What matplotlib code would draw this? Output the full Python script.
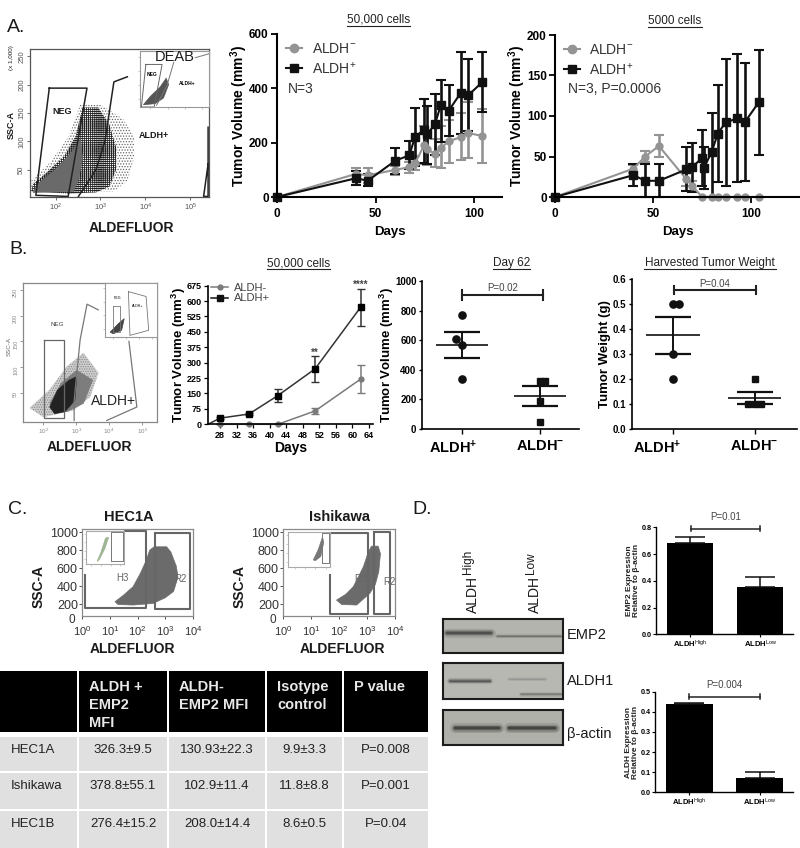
import matplotlib
matplotlib.use("Agg")
import matplotlib.pyplot as plt
from matplotlib.patches import Polygon, Rectangle
from matplotlib.lines import Line2D
from matplotlib.transforms import ScaledTranslation

plt.rcParams['font.family'] = ['Liberation Sans', 'DejaVu Sans']
plt.rcParams['mathtext.fontset'] = 'custom'
plt.rcParams['mathtext.rm'] = 'Liberation Sans'
plt.rcParams['mathtext.bf'] = 'Liberation Sans:bold'
plt.rcParams['mathtext.it'] = 'Liberation Sans'
plt.rcParams['hatch.linewidth'] = 0.6

W, H = 800, 848
GRAY = '#949494'
BLACK = '#111111'

# --- panel A, 50,000 cells ---
a1_neg_days = [0, 40, 46, 60, 67, 70, 74.5, 76, 80, 83, 87, 93, 97, 104]
a1_neg = [0, 85, 80, 100, 110, 125, 190, 175, 160, 180, 205, 220, 235, 225]
a1_neg_low = [0, 65, 50, 80, 90, 100, 120, 118, 110, 105, 125, 135, 145, 125]
a1_neg_high = [0, 105, 105, 115, 130, 150, 260, 235, 215, 260, 285, 310, 350, 325]
a1_pos_days = [0, 40, 46, 60, 67, 70, 74.5, 76, 80, 83, 87, 93, 97, 104]
a1_pos = [0, 69, 60, 134, 153, 222, 247, 231, 267, 339, 318, 382, 375, 423]
a1_pos_low = [0, 45, 42, 85, 102, 115, 124, 121, 155, 204, 223, 231, 243, 314]
a1_pos_high = [0, 97, 83, 182, 207, 328, 361, 335, 379, 429, 412, 533, 508, 533]

# --- panel A, 5000 cells ---
a2_neg_days = [0, 40, 46, 53, 67, 70, 75, 80, 83, 87, 93, 97, 104]
a2_neg = [0, 35, 50, 63, 22, 14, 0, 0, 0, 0, 0, 0, 0]
a2_neg_low = [0, 30, 43, 50, 14, 8, 0, 0, 0, 0, 0, 0, 0]
a2_neg_high = [0, 40, 57, 77, 30, 20, 0, 0, 0, 0, 0, 0, 0]
a2_pos_days = [0, 40, 46, 53, 67, 70, 75, 76, 80, 83, 87, 93, 97, 104]
a2_pos = [0, 27, 20, 20, 34, 37, 48, 36, 56, 78, 92, 97, 93, 117]
a2_pos_low = [0, 13, 0, 0, 8, 6, 14, 10, 0, 18, 13, 19, 20, 52]
a2_pos_high = [0, 41, 41, 41, 62, 67, 83, 62, 104, 138, 170, 176, 165, 182]

# --- panel B ---
b_days = [28, 35, 42, 51, 62]
b_neg = [0, 0, 0, 65, 220]
b_neg_err = [0, 0, 0, 15, 68]
b_pos = [30, 50, 140, 270, 570]
b_pos_err = [5, 5, 32, 65, 90]
b_ticks_x = [28, 32, 36, 40, 44, 48, 52, 56, 60, 64]
b_ticks_y = [0, 75, 150, 225, 300, 375, 450, 525, 600, 675]

dot_labels = ['ALDH$\\mathbf{^{+}}$', 'ALDH$\\mathbf{^{-}}$']
vol_pos_x = [0, -0.08, 0, 0]
vol_pos_y = [770, 605, 570, 340]
vol_neg_x = [0, 0.07, 0, 0]
vol_neg_y = [325, 325, 190, 45]
vol_means = [570, 222]
vol_sems = [88, 68]
wt_pos_x = [0, 0.08, 0, 0]
wt_pos_y = [0.5, 0.5, 0.3, 0.2]
wt_neg_x = [0, -0.08, 0, 0.08]
wt_neg_y = [0.2, 0.1, 0.1, 0.1]
wt_means = [0.375, 0.125]
wt_sems = [0.075, 0.025]

# --- panel D ---
bar_labels = ['ALDH$^{High}$', 'ALDH$^{Low}$']
emp2_vals = [0.68, 0.35]
emp2_errs = [0.045, 0.08]
aldh_vals = [0.44, 0.07]
aldh_errs = [0.006, 0.03]

# --- table ---
table_header = ['', 'ALDH +\nEMP2\nMFI', 'ALDH-\nEMP2 MFI', 'Isotype\ncontrol', 'P value']
table_rows = [
    ['HEC1A', '326.3±9.5', '130.93±22.3', '9.9±3.3', 'P=0.008'],
    ['Ishikawa', '378.8±55.1', '102.9±11.4', '11.8±8.8', 'P=0.001'],
    ['HEC1B', '276.4±15.2', '208.0±14.4', '8.6±0.5', 'P=0.04'],
]
table_x = [(0, 77), (79, 167), (169, 265), (267, 342), (344, 428)]
table_y = [(671, 732), (737, 771), (773, 809), (811, 848)]

# --- flow cytometry outlines (log10 fluorescence, SSC) ---
fa_sparse = [(1.45, 12), (1.45, 30), (1.9, 65), (2.3, 110), (2.55, 165), (3.0, 165),
             (3.5, 140), (3.75, 110), (3.75, 70), (3.6, 30), (3.3, 12)]
fa_dark = [(1.45, 12), (1.5, 25), (1.8, 45), (2.2, 75), (2.45, 110), (2.6, 160), (2.95, 160),
           (3.2, 130), (3.35, 90), (3.35, 50), (3.2, 20), (2.9, 10), (2.3, 8)]
fa_core = [(1.5, 10), (1.6, 25), (2.0, 50), (2.4, 85), (2.55, 105), (2.6, 70), (2.5, 30), (2.4, 12)]
fa_neg = [(1.86, 194), (2.7, 194), (2.28, 3), (1.56, 5)]
fa_pos = [(2.51, 3), (2.9, 50), (3.1, 100), (3.3, 205), (3.6, 214)]
fa_edge = [(5.4, 125), (5.4, 3), (5.3, 3), (5.4, 60)]
fb_light = [(1.6, 21), (2.2, 56), (2.72, 101), (3.22, 127), (3.67, 89), (3.42, 43), (2.92, 17), (2.01, 4)]
fb_mid = [(2.2, 30), (2.55, 69), (3.02, 94), (3.5, 75), (3.22, 30), (2.72, 14)]
fb_core = [(2.2, 23), (2.44, 56), (2.79, 75), (3.02, 82), (2.96, 36), (2.66, 14), (2.35, 10)]
fb_neg = [(2.03, 152), (2.64, 152), (2.64, 1), (2.03, 1)]
fb_pos = [(2.94, -3), (2.94, 36), (3.12, 153), (3.33, 222), (3.67, 211)]
fb_pos2 = [(4.6, 150), (4.84, 23), (3.93, -3)]
hec_cloud = [(1.19, 226), (1.5, 300), (1.84, 393), (2.1, 540), (2.32, 689), (2.44, 800), (2.6, 837),
             (3.05, 837), (3.2, 780), (3.4, 620), (3.46, 500), (3.3, 340), (3.0, 270), (2.56, 207),
             (1.84, 189), (1.3, 195)]
ish_cloud = [(1.91, 244), (2.25, 310), (2.51, 393), (2.72, 520), (2.87, 615), (3.05, 780), (3.16, 844),
             (3.4, 844), (3.48, 760), (3.42, 560), (3.3, 420), (3.1, 319), (2.63, 189), (2.1, 195)]

fig = plt.figure(figsize=(8, 8.48), dpi=100)
pix = fig.add_axes([0, 0, 1, 1], zorder=10)
pix.set_xlim(0, W)
pix.set_ylim(H, 0)
pix.axis('off')


def box(l, t, r, b, **kw):
    return fig.add_axes([l / W, 1 - b / H, (r - l) / W, (b - t) / H], **kw)


def clean(ax, lw=1.4):
    ax.spines['top'].set_visible(False)
    ax.spines['right'].set_visible(False)
    ax.spines['left'].set_linewidth(lw)
    ax.spines['bottom'].set_linewidth(lw)
    ax.patch.set_alpha(0)


def label(x, y, s, size=10, bold=False, color='#1a1a1a', ha='center', va='center', rot=0):
    pix.text(x, y, s, fontsize=size, fontweight='bold' if bold else 'normal', color=color,
             ha=ha, va=va, rotation=rot)


def title(x0, x1, y, s):
    label((x0 + x1) / 2, y, s, size=8.5, color='#222222')
    pix.plot([x0, x1], [y + 5.5, y + 5.5], color='#222222', lw=0.8)


def growth(ax, days, vals, low, high, color, marker, ms, lw=1.5):
    lo = [v - l for v, l in zip(vals, low)]
    hi = [h - v for v, h in zip(vals, high)]
    ax.errorbar(days, vals, yerr=[lo, hi], color=color, marker=marker, ms=ms, lw=lw,
                elinewidth=lw + 0.4, capsize=3.5, capthick=lw, clip_on=False)


def growth_axes(l, t, r, b, xmax, ymax, yticks, ypad):
    ax = box(l, t, r, b)
    clean(ax, 1.5)
    ax.set_xlim(0, xmax)
    ax.set_ylim(0, ymax)
    ax.set_xticks([0, 50, 100])
    ax.set_yticks(yticks)
    ax.tick_params(labelsize=8.5, width=1.3, length=4, pad=2)
    ax.tick_params(axis='x', pad=4)
    for t_ in ax.get_xticklabels() + ax.get_yticklabels():
        t_.set_fontweight('bold')
    ax.set_xlabel('Days', fontsize=9.5, fontweight='bold', labelpad=4)
    ax.set_ylabel('Tumor Volume (mm$\\mathbf{^3}$)', fontsize=10, fontweight='bold', labelpad=ypad)
    return ax


def growth_legend(ax, x, y):
    h = [Line2D([], [], color=GRAY, marker='o', ms=6, lw=1.5),
         Line2D([], [], color=BLACK, marker='s', ms=6, lw=1.5)]
    ax.legend(h, ['ALDH$^{-}$', 'ALDH$^{+}$'], frameon=False, fontsize=10, loc='upper left',
              bbox_to_anchor=(x, y), handlelength=1.15, handletextpad=0.7, labelspacing=0.3,
              labelcolor='#333333', borderaxespad=0, borderpad=0)


def flow_axes(l, t, r, b, xlim, ylim, yticks, xticks, color='#555555'):
    ax = box(l, t, r, b)
    ax.set_xlim(*xlim)
    ax.set_ylim(*ylim)
    ax.set_xticks(xticks)
    ax.set_xticklabels([f'$10^{x}$' for x in xticks])
    ax.set_yticks(yticks)
    ax.tick_params(labelsize=5.5, length=2.5, width=0.6, pad=1, colors=color)
    for s in ax.spines.values():
        s.set_color(color)
        s.set_linewidth(0.9)
    return ax


def inset(l, t, r, b, color='#999999'):
    ax = box(l, t, r, b, zorder=3)
    ax.set_xlim(0, 1)
    ax.set_ylim(0, 1)
    ax.set_xticks([0.15, 0.4, 0.65, 0.9])
    ax.set_yticks([0.15, 0.4, 0.65, 0.9])
    ax.tick_params(labelleft=False, labelbottom=False, length=1.5, width=0.4, colors=color)
    for s in ax.spines.values():
        s.set_color(color)
        s.set_linewidth(0.8)
    return ax


def fill(ax, pts, color, hatch=None, z=1):
    if hatch:
        ax.add_patch(Polygon(pts, facecolor='none', edgecolor=color, hatch=hatch, lw=0, zorder=z))
    else:
        ax.add_patch(Polygon(pts, facecolor=color, edgecolor=color, lw=0.5, zorder=z))


def outline(ax, pts, color='#222222', lw=1.1, closed=True, z=2):
    xs = [p[0] for p in pts]
    ys = [p[1] for p in pts]
    if closed:
        xs.append(xs[0])
        ys.append(ys[0])
    ax.plot(xs, ys, color=color, lw=lw, zorder=z, clip_on=False)


def dot_plot(l, t, r, b, xlim, ylim, yticks, ylabel, pos, neg, means, sems, yfmt, ypad, shift):
    ax = box(l, t, r, b)
    clean(ax, 1.2)
    ax.set_xlim(*xlim)
    ax.set_ylim(*ylim)
    ax.set_xticks([0, 1])
    ax.set_xticklabels(dot_labels, fontsize=10.5, fontweight='bold')
    ax.set_yticks(yticks)
    ax.set_yticklabels([yfmt.format(v) for v in yticks], fontsize=7, fontweight='bold')
    ax.tick_params(width=1, length=2.5, pad=1.5)
    ax.tick_params(axis='x', pad=4, length=3.5)
    lbl = ax.get_xticklabels()[0]
    lbl.set_transform(lbl.get_transform() + ScaledTranslation(shift / 100, 0, fig.dpi_scale_trans))
    ax.set_ylabel(ylabel, fontsize=9.5, fontweight='bold', labelpad=ypad)
    ax.plot(pos[0], pos[1], 'o', color=BLACK, ms=5.2, clip_on=False)
    ax.plot([1 + v for v in neg[0]], neg[1], 's', color=BLACK, ms=5, clip_on=False)
    for i in range(2):
        ax.hlines(means[i], i - 0.33, i + 0.33, color=BLACK, lw=1.2)
        ax.errorbar(i, means[i], yerr=sems[i], color=BLACK, elinewidth=1.4, capsize=13,
                    capthick=1.6)
    return ax


def bracket(ax, x0, x1, y, dy, text, ty, size=6.5, lw=1.5):
    ax.plot([x0, x1], [y, y], color='#222222', lw=lw, clip_on=False)
    ax.plot([x0, x0], [y - dy, y + dy], color='#222222', lw=lw, clip_on=False)
    ax.plot([x1, x1], [y - dy, y + dy], color='#222222', lw=lw, clip_on=False)
    ax.text((x0 + x1) / 2, ty, text, ha='center', va='center', fontsize=size, color='#444444',
            clip_on=False)


def bar_plot(l, t, r, b, vals, errs, ylim, yticks, ylabel):
    ax = box(l, t, r, b)
    clean(ax, 1.0)
    ax.set_xlim(-0.49, 1.47)
    ax.set_ylim(*ylim)
    ax.bar([0, 1], vals, width=0.66, color='black')
    ax.errorbar([0, 1], vals, yerr=[[0, 0], errs], fmt='none', ecolor=BLACK, elinewidth=1.1,
                capsize=11, capthick=1.1)
    ax.set_xticks([0, 1])
    ax.set_xticklabels(bar_labels, fontsize=5.5, fontweight='bold')
    ax.set_yticks(yticks)
    ax.set_yticklabels([f'{v:.1f}' for v in yticks], fontsize=5.2, fontweight='bold')
    ax.tick_params(width=0.8, length=2, pad=1)
    ax.set_ylabel(ylabel, fontsize=6, fontweight='bold', labelpad=1, linespacing=1.1,
                  color='#222222')
    return ax


def blot(l, t, r, b, bands, bg='#b4b4ae'):
    ax = box(l, t, r, b)
    ax.set_xlim(0, 1)
    ax.set_ylim(0, 1)
    ax.set_xticks([])
    ax.set_yticks([])
    ax.set_facecolor(bg)
    for s in ax.spines.values():
        s.set_linewidth(1.5)
        s.set_color('#1c1c1c')
    for x0, x1, y, w, col in bands:
        for mult, alpha in [(3.0, 0.12), (2.0, 0.2), (1.2, 0.35), (0.7, 0.4)]:
            ax.plot([x0, x1], [y, y], color=col, lw=w * mult, alpha=alpha,
                    solid_capstyle='round')


# panel letters
label(7, 27, 'A.', size=14, ha='left')
label(9, 250, 'B.', size=14, ha='left')
label(8, 510, 'C.', size=14, ha='left')
label(412, 510, 'D.', size=14, ha='left')

# A flow plot
ax = flow_axes(30, 49, 209, 197, (1.43, 5.42), (2, 263), [50, 100, 150, 200, 250], [2, 3, 4, 5])
ax.tick_params(axis='y', labelrotation=90)
for t_ in ax.get_yticklabels():
    t_.set_va('center')
fill(ax, fa_sparse, '#666666', hatch='......', z=1)
fill(ax, fa_dark, '#ffffff', z=1.1)
fill(ax, fa_dark, '#222222', hatch='++++++++', z=1.2)
fill(ax, fa_core, '#6a6a6a', z=1.5)
outline(ax, fa_neg)
outline(ax, fa_pos, closed=False)
outline(ax, fa_edge, closed=False)
ins = inset(140, 51, 209, 107)
fill(ins, [(.05, .04), (.15, .19), (.29, .355), (.38, .515), (.415, .40), (.34, .16), (.22, .06)], '#555555')
outline(ins, [(.085, .76), (.32, .76), (.205, 0.0), (.02, 0.0)], '#666666', 0.7)
outline(ins, [(.49, .80), (.39, .38), (.24, .03)], '#777777', 0.7, closed=False)
outline(ins, [(.8, .88), (1.0, .95)], '#777777', 0.7, closed=False)
ins.text(.17, .58, 'NEG', fontsize=3.5, fontweight='bold', ha='center', va='center')
ins.text(.69, .42, 'ALDH+', fontsize=3.5, fontweight='bold', ha='center', va='center')
label(175, 57, 'DEAB', size=10.5)
label(62, 111, 'NEG', size=6.5, bold=True)
label(154, 135, 'ALDH+', size=6.5, bold=True)
label(131, 228, 'ALDEFLUOR', size=10, bold=True)
label(11, 125, 'SSC-A', size=6.5, bold=True, rot=90)
label(11, 58, '(x 1,000)', size=4.5, rot=90)

# A growth curves
ax = growth_axes(277, 34, 502, 197, 114, 600, [0, 200, 400, 600], -1)
growth(ax, a1_neg_days, a1_neg, a1_neg_low, a1_neg_high, GRAY, 'o', 5)
growth(ax, a1_pos_days, a1_pos, a1_pos_low, a1_pos_high, BLACK, 's', 5.5)
growth_legend(ax, 0.04, 0.95)
label(288, 89, 'N=3', size=10, ha='left', color='#333333')
title(347, 410, 20, '50,000 cells')

ax = growth_axes(555, 35, 800, 197, 125, 200, [0, 50, 100, 150, 200], -1)
growth(ax, a2_neg_days, a2_neg, a2_neg_low, a2_neg_high, GRAY, 'o', 5)
growth(ax, a2_pos_days, a2_pos, a2_pos_low, a2_pos_high, BLACK, 's', 5.5)
growth_legend(ax, 0.035, 0.95)
label(568, 89, 'N=3, P=0.0006', size=10, ha='left', color='#333333')
title(648, 702, 21, '5000 cells')

# B flow plot
ax = flow_axes(23, 283, 157, 422, (1.39, 5.45), (-6, 263), [50, 100, 150, 200, 250], [2, 3, 4, 5],
               color='#888888')
ax.tick_params(axis='y', labelrotation=90, labelsize=4)
ax.tick_params(axis='x', labelsize=4.5)
fill(ax, fb_light, '#cfcfcf', z=0.9)
fill(ax, fb_light, '#888888', hatch='.......')
fill(ax, fb_mid, '#7d7d7d', z=1.2)
fill(ax, fb_core, '#222222', z=1.4)
outline(ax, fb_neg, '#666666', 0.9)
outline(ax, fb_pos, '#777777', 0.9, closed=False)
outline(ax, fb_pos2, '#777777', 0.9, closed=False)
ins = inset(105, 283, 157, 337)
fill(ins, [(.1, .09), (.26, .25), (.37, .34), (.32, .125), (.16, .06)], '#444444')
outline(ins, [(.15, .58), (.29, .58), (.29, .09), (.15, .09)], '#777777', 0.6)
outline(ins, [(.45, .84), (.79, .75), (.84, .125), (.48, .03)], '#777777', 0.6)
ins.text(.25, .72, 'NEG', fontsize=2.5, ha='center', va='center')
ins.text(.63, .58, 'ALDH+', fontsize=2.5, ha='center', va='center')
label(57, 325, 'NEG', size=4.5, color='#444444')
label(113, 401, 'ALDH+', size=10, color='#222222')
label(89, 447, 'ALDEFLUOR', size=10, bold=True)
label(9, 347, 'SSC-A', size=4.5, color='#666666', rot=90)

# B growth curve
ax = box(208, 285.7, 373, 424.3)
clean(ax, 1.2)
ax.set_xlim(25.1, 65)
ax.set_ylim(0, 675)
ax.errorbar(b_days, b_neg, yerr=b_neg_err, color='#7a7a7a', marker='o', ms=3.5, lw=1.1,
            capsize=3, clip_on=False)
ax.errorbar(b_days, b_pos, yerr=b_pos_err, color='#333333', marker='s', ms=4, mfc='black',
            mec='black', lw=1.1, capsize=3, clip_on=False)
ax.plot([25.1, 28], [0, 30], color='#333333', lw=1.1)
ax.set_xticks(b_ticks_x)
ax.set_yticks(b_ticks_y)
ax.tick_params(labelsize=6.5, width=0.9, length=3, pad=1.5)
for t_ in ax.get_xticklabels() + ax.get_yticklabels():
    t_.set_fontweight('bold')
ax.set_xlabel('Days', fontsize=10, fontweight='bold', labelpad=1)
ax.set_ylabel('Tumor Volume (mm$\\mathbf{^3}$)', fontsize=9.5, fontweight='bold', labelpad=-1)
ax.text(51, 350, '**', ha='center', va='center', fontsize=7, fontweight='bold', color='#444444')
ax.text(62, 680, '****', ha='center', va='center', fontsize=7, fontweight='bold', color='#444444',
        clip_on=False)
h = [Line2D([], [], color='#7a7a7a', marker='o', ms=3.5, lw=1.1),
     Line2D([], [], color=BLACK, marker='s', ms=4, lw=1.1)]
ax.legend(h, ['ALDH-', 'ALDH+'], frameon=False, fontsize=8, loc='upper left', labelcolor='#444444',
          bbox_to_anchor=(0.02, 1.02), handlelength=1.5, handletextpad=0.5, labelspacing=0.05,
          borderaxespad=0, borderpad=0)
title(267, 330, 263, '50,000 cells')

# B dot plots
ax = dot_plot(422, 281, 579, 429, (-0.51, 1.5), (0, 1000), [0, 200, 400, 600, 800, 1000],
              'Tumor Volume (mm$\\mathbf{^3}$)', (vol_pos_x, vol_pos_y), (vol_neg_x, vol_neg_y),
              vol_means, vol_sems, '{:d}', -1, -9)
bracket(ax, 0, 1.04, 903, 33, 'P=0.02', 950, size=7)
title(493, 530, 263, 'Day 62')

ax = dot_plot(632, 279, 797, 429, (-0.5, 1.52), (0, 0.6), [0, 0.1, 0.2, 0.3, 0.4, 0.5, 0.6],
              'Tumor Weight (g)', (wt_pos_x, wt_pos_y), (wt_neg_x, wt_neg_y),
              wt_means, wt_sems, '{:.1f}', 1, -16)
bracket(ax, 0.01, 1.02, 0.556, 0.015, 'P=0.04', 0.58, size=7)
title(644, 776, 263, 'Harvested Tumor Weight')


# C flow plots
def c_flow(l, r, centre, cloud, gates, texts, inset_box, inset_cloud, inset_gate, name):
    ax = flow_axes(l, 529, r, 616, (0, 4), (67, 1035), [200, 400, 600, 800, 1000], [0, 1, 2, 3, 4],
                   color='#8a8a8a')
    ax.tick_params(labelsize=9, colors='#333333', length=2, pad=1)
    ax.tick_params(axis='x', pad=4, labelsize=8)
    fill(ax, cloud, '#6b6b6b', z=1)
    for g in gates:
        outline(ax, g, '#666666', 1.5, closed=False)
    for x, y, s in texts:
        ax.text(x, y, s, fontsize=7, color='#666666', ha='center', va='center', zorder=4)
    label(l - 10, 620, '0', size=8.5, color='#333333')
    i_ax = inset(*inset_box, color='#aaaaaa')
    fill(i_ax, inset_cloud[0], inset_cloud[1])
    outline(i_ax, inset_gate, '#777777', 0.7)
    label(centre - 3, 517, name, size=10.5, bold=True)
    label(centre, 649, 'ALDEFLUOR', size=10, bold=True)
    label(l - 43, 587, 'SSC-A', size=10, bold=True, rot=90)


c_flow(82, 193, 132, hec_cloud,
       [[(0.1, 520), (0.1, 155), (2.3, 155), (2.3, 1010), (1.55, 1010)],
        [(2.63, 995), (3.9, 995), (3.9, 145), (2.63, 145), (2.63, 995)]],
       [(1.45, 485, 'H3'), (3.55, 478, 'R2')],
       (85.5, 530.7, 124, 564),
       ([(.35, .12), (.5, .45), (.6, .8), (.52, .78), (.4, .35), (.3, .08)], '#9db592'),
       [(.66, .1), (.98, .1), (.98, .95), (.66, .95)], 'HEC1A')
c_flow(283, 395, 342, ish_cloud,
       [[(1.67, 520), (1.67, 90), (3.03, 90), (3.03, 990), (1.75, 990)],
        [(3.24, 1000), (3.82, 1000), (3.82, 85), (3.24, 85), (3.24, 1000)]],
       [(2.75, 478, 'R3'), (3.8, 440, 'R2')],
       (288.3, 531.7, 330, 567),
       ([(.6, .2), (.72, .5), (.82, .85), (.85, .7), (.78, .3), (.65, .18)], '#777777'),
       [(.8, .1), (.98, .1), (.98, .95), (.8, .95)], 'Ishikawa')

# table
for (x0, x1), s in zip(table_x, table_header):
    pix.add_patch(Rectangle((x0, table_y[0][0]), x1 - x0, table_y[0][1] - table_y[0][0],
                            facecolor='black', edgecolor='none'))
    if s:
        pix.text(x0 + 10, table_y[0][0] + 9, s, color='#e8e8e8', fontsize=10.5,
                 fontweight='bold', va='top', ha='left', linespacing=1.35)
for row, (y0, y1) in zip(table_rows, table_y[1:]):
    for col, ((x0, x1), s) in enumerate(zip(table_x, row)):
        pix.add_patch(Rectangle((x0, y0), x1 - x0, y1 - y0, facecolor='#e0e0e0', edgecolor='none'))
        if col == 0:
            pix.text(x0 + 11, y0 + 13, s, fontsize=9.5, color='#222222', va='center', ha='left')
        else:
            pix.text((x0 + x1) / 2, y0 + 13, s, fontsize=9.5, color='#222222', va='center', ha='center')

# D western blots
blot(443, 619, 563, 653, [(0.03, 0.4, 0.58, 2.2, '#2a2a2a'), (0.45, 0.98, 0.5, 1.0, '#555555')])
blot(443, 663, 563, 699, [(0.06, 0.39, 0.5, 1.5, '#333333'), (0.55, 0.85, 0.55, 1.0, '#8a8a8a'),
                          (0.65, 0.98, 0.13, 1.2, '#666666')], bg='#b8b8b2')
blot(443, 710, 563, 745, [(0.1, 0.47, 0.5, 2.4, '#1e1e1e'), (0.55, 0.93, 0.5, 2.4, '#1e1e1e')],
     bg='#b0b0aa')
label(567, 635, 'EMP2', size=10.5, ha='left')
label(567, 681, 'ALDH1', size=10.5, ha='left')
label(567, 734, 'β-actin', size=10.5, ha='left')
label(473, 613, 'ALDH', size=10, rot=90, va='bottom')
label(468, 574, 'High', size=8.5, rot=90, va='bottom')
label(535, 613, 'ALDH', size=10, rot=90, va='bottom')
label(531, 574, 'Low', size=8.5, rot=90, va='bottom')

# D bars
ax = bar_plot(655.7, 527.3, 793, 634.3, emp2_vals, emp2_errs, (0, 0.8), [0, 0.2, 0.4, 0.6, 0.8],
              'EMP2 Expression\nRelative to β-actin')
bracket(ax, 0.01, 1.0, 0.79, 0.02, 'P=0.01', 0.875, size=7, lw=1.1)
ax = bar_plot(655, 691.7, 792.7, 792.3, aldh_vals, aldh_errs, (0, 0.5), [0, 0.1, 0.2, 0.3, 0.4, 0.5],
              'ALDH Expression\nRelative to β-actin')
bracket(ax, 0.0, 1.0, 0.475, 0.012, 'P=0.004', 0.535, size=7, lw=1.1)

fig.savefig('out.png', dpi=100)
